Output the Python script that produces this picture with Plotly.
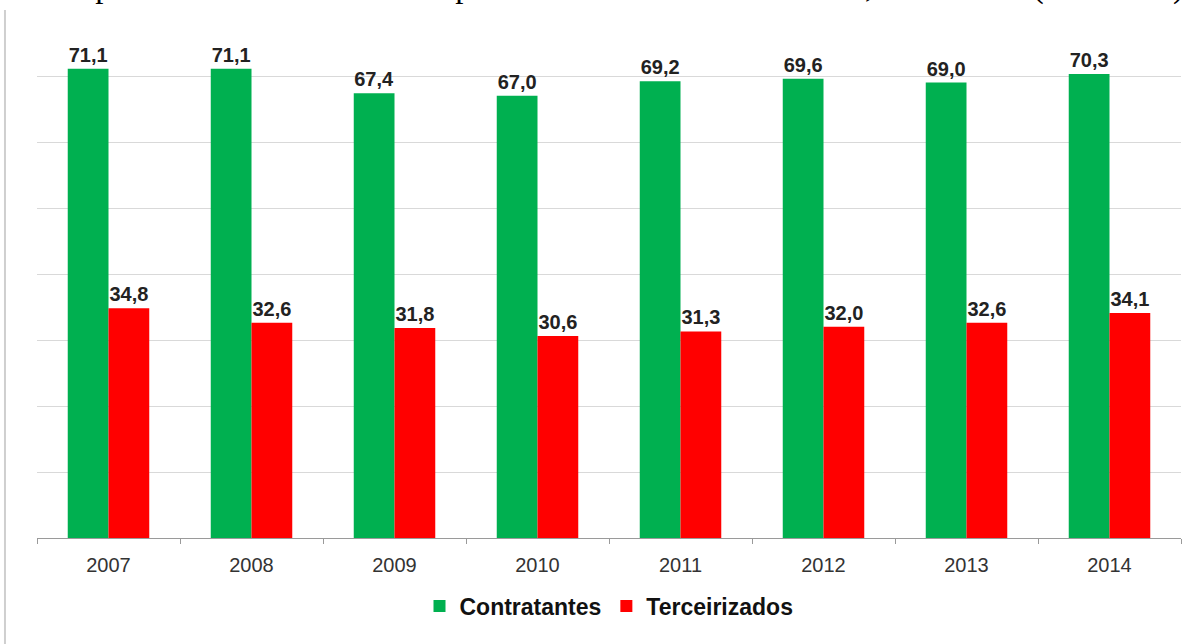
import plotly.graph_objects as go

years = ["2007", "2008", "2009", "2010", "2011", "2012", "2013", "2014"]
contratantes = [71.1, 71.1, 67.4, 67.0, 69.2, 69.6, 69.0, 70.3]
terceirizados = [34.8, 32.6, 31.8, 30.6, 31.3, 32.0, 32.6, 34.1]
series_names = ["Contratantes", "Terceirizados"]
title_text = "tipicamente terceirizadas e tipicamente contratantes - Brasil, 2007-2014 (em meses)"

def fmt(v):
    return f"{v:.1f}".replace(".", ",")

label_font = dict(family="Liberation Sans, Arial", size=20, color="#222222")

fig = go.Figure()
for name, vals, color in [(series_names[0], contratantes, "#00B050"),
                          (series_names[1], terceirizados, "#FF0000")]:
    fig.add_trace(go.Bar(
        x=years, y=vals, name=f"<b>{name}</b>",
        marker=dict(color=color, line=dict(width=0)),
        text=[f"<b>{fmt(v)}</b>" for v in vals], textposition="outside",
        textfont=label_font, cliponaxis=False,
    ))

fig.update_layout(
    width=1204, height=644,
    margin=dict(l=37, r=23, t=10, b=106),
    paper_bgcolor="white", plot_bgcolor="white",
    barmode="group", bargap=0.43, bargroupgap=0,
    font=dict(family="Liberation Sans, Arial", color="#333333"),
    showlegend=True,
    legend=dict(
        orientation="h", x=0.5, xanchor="center", y=-0.129, yanchor="middle",
        font=dict(family="Liberation Sans, Arial", size=23, color="#111111"),
        traceorder="normal",
    ),
    xaxis=dict(
        type="category", showline=True, linecolor="#9a9a9a", linewidth=1,
        ticks="outside", tickson="boundaries", ticklen=5, tickcolor="#9a9a9a",
        tickfont=dict(size=20, color="#333333"), showgrid=False,
        ticklabelstandoff=9,
    ),
    yaxis=dict(
        range=[0, 80], dtick=10, showgrid=True, gridcolor="#d9d9d9", gridwidth=1,
        showticklabels=False, zeroline=False, showline=False,
    ),
    shapes=[
        dict(type="line", xref="paper", yref="paper",
             x0=-0.028, x1=-0.028, y0=-0.21, y1=1.0,
             line=dict(color="#cfcfcf", width=2)),
    ],
    annotations=[
        dict(
            text=title_text,
            xref="paper", yref="paper", x=(75 - 37) / 1144, xanchor="left",
            y=1.045, yanchor="middle", showarrow=False,
            font=dict(family="Liberation Serif, Times New Roman", size=33, color="#000000"),
        )
    ],
)

fig.write_html("out.html")
